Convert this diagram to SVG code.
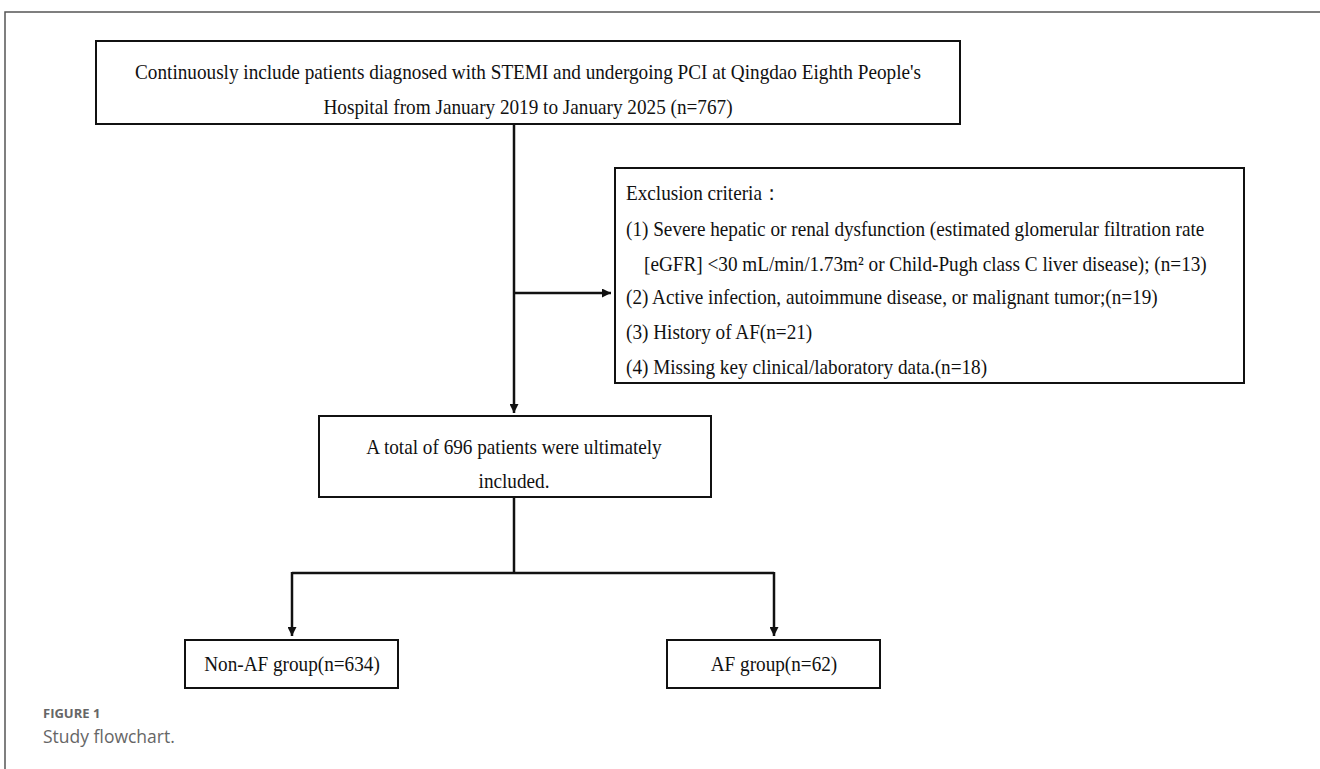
<svg xmlns="http://www.w3.org/2000/svg" width="1320" height="769" viewBox="0 0 1320 769">
<style>
.box{fill:#fff;stroke:#111;stroke-width:2}
.t{font-family:"Liberation Serif","Times New Roman",serif;font-size:21px;fill:#111}
.c{text-anchor:middle}
.ln{stroke:#111;stroke-width:2.5;fill:none}
.frame{stroke:#555;stroke-width:1.5;fill:none}
.cap{font-family:"Open Sans","Liberation Sans",sans-serif;fill:#666}
</style>
<defs>
<marker id="ah" viewBox="0 0 10 10" refX="10" refY="5" markerWidth="9" markerHeight="9" markerUnits="userSpaceOnUse" orient="auto">
<path d="M0,0 L10,5 L0,10 Z" fill="#111"/>
</marker>
</defs>
<rect width="1320" height="769" fill="#fff"/>
<path class="frame" d="M5,769 V12 H1320"/>
<g id="connectors">
<path class="ln" d="M514,124 V413" marker-end="url(#ah)"/>
<path class="ln" d="M514,293 H611" marker-end="url(#ah)"/>
<path class="ln" d="M514,497 V573"/>
<path class="ln" d="M292,573 H774"/>
<path class="ln" d="M292,572 V636" marker-end="url(#ah)"/>
<path class="ln" d="M774,572 V636" marker-end="url(#ah)"/>
</g>
<g id="n-start">
<rect class="box" x="96" y="41" width="864" height="83"/>
<text class="t c" transform="translate(528,79) scale(0.915,1)">Continuously include patients diagnosed with STEMI and undergoing PCI at Qingdao Eighth People's</text>
<text class="t c" transform="translate(528,114) scale(0.915,1)">Hospital from January 2019 to January 2025 (n=767)</text>
</g>
<g id="n-exclusion">
<rect class="box" x="615" y="168" width="629" height="215"/>
<text class="t" transform="translate(626,200) scale(0.915,1)">Exclusion criteria：</text>
<text class="t" transform="translate(626,236) scale(0.915,1)">(1) Severe hepatic or renal dysfunction (estimated glomerular filtration rate</text>
<text class="t" transform="translate(644,271) scale(0.915,1)">[eGFR] &lt;30 mL/min/1.73m² or Child-Pugh class C liver disease); (n=13)</text>
<text class="t" transform="translate(626,304) scale(0.915,1)">(2) Active infection, autoimmune disease, or malignant tumor;(n=19)</text>
<text class="t" transform="translate(626,339) scale(0.915,1)">(3) History of AF(n=21)</text>
<text class="t" transform="translate(626,374) scale(0.915,1)">(4) Missing key clinical/laboratory data.(n=18)</text>
</g>
<g id="n-included">
<rect class="box" x="319" y="416" width="392" height="81"/>
<text class="t c" transform="translate(514,454) scale(0.915,1)">A total of 696 patients were ultimately</text>
<text class="t c" transform="translate(514,488) scale(0.915,1)">included.</text>
</g>
<g id="n-nonaf">
<rect class="box" x="185" y="640" width="213" height="48"/>
<text class="t c" transform="translate(292,671) scale(0.915,1)">Non-AF group(n=634)</text>
</g>
<g id="n-af">
<rect class="box" x="667" y="640" width="213" height="48"/>
<text class="t c" transform="translate(774,671) scale(0.915,1)">AF group(n=62)</text>
</g>
<g id="caption">
<text class="cap" x="43" y="718" font-size="13" font-weight="bold">FIGURE 1</text>
<text class="cap" x="43" y="743" font-size="17.5">Study flowchart.</text>
</g>
</svg>
